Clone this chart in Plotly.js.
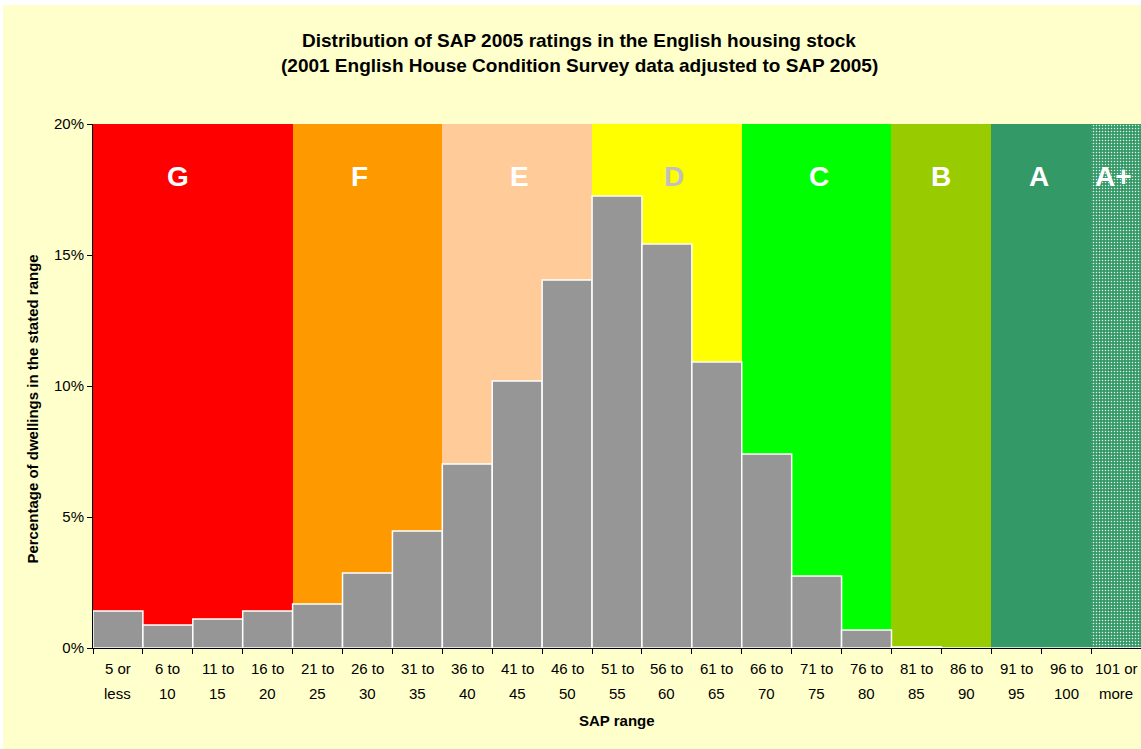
<!DOCTYPE html>
<html>
<head>
<meta charset="utf-8">
<script src="https://cdn.plot.ly/plotly-3.0.1.min.js"></script>
<style>
html,body{margin:0;padding:0;background:#ffffff;}
#chart{position:absolute;left:3px;top:5px;width:1138px;height:744px;}
</style>
</head>
<body>
<div id="chart"></div>
<script>
// ---- data ----
const categories = ["5 or less","6 to 10","11 to 15","16 to 20","21 to 25","26 to 30","31 to 35","36 to 40","41 to 45","46 to 50","51 to 55","56 to 60","61 to 65","66 to 70","71 to 75","76 to 80","81 to 85","86 to 90","91 to 95","96 to 100","101 or more"];
const tickLine1 = ["5 or","6 to","11 to","16 to","21 to","26 to","31 to","36 to","41 to","46 to","51 to","56 to","61 to","66 to","71 to","76 to","81 to","86 to","91 to","96 to","101 or"];
const tickLine2 = ["less","10","15","20","25","30","35","40","45","50","55","60","65","70","75","80","85","90","95","100","more"];
const percentages = [1.41, 0.88, 1.11, 1.41, 1.68, 2.86, 4.47, 7.02, 10.19, 14.05, 17.25, 15.42, 10.92, 7.40, 2.75, 0.69, 0.04, 0, 0, 0, 0];
const bandTop = 20;
const bandColors = ["#FF0000","#FF0000","#FF0000","#FF0000","#FF9900","#FF9900","#FF9900","#FFCC99","#FFCC99","#FFCC99","#FFFF00","#FFFF00","#FFFF00","#00FF00","#00FF00","#00FF00","#99CC00","#99CC00","#339966","#339966","#339966"];
const bandDotted = [false,false,false,false,false,false,false,false,false,false,false,false,false,false,false,false,false,false,false,false,true];
const bandLetters = ["G","F","E","D","C","B","A","A+"];
const bandLetterPos = [1.2, 4.85, 8.05, 11.15, 14.05, 16.5, 18.45, 19.95];
const bandLetterColors = ["#FFFFFF","#FFFFFF","#FFFFFF","#C0C0C0","#FFFFFF","#FFFFFF","#FFFFFF","#FFFFFF"];
const bandLetterY = 18;
const yTicks = [0, 5, 10, 15, 20];

const FONT = "Liberation Sans, Arial, sans-serif";

// ---- traces ----
const plainIdx = categories.map((c, i) => i).filter(i => !bandDotted[i]);
const dotIdx = categories.map((c, i) => i).filter(i => bandDotted[i]);
const bands = {
  type: "bar",
  x: plainIdx.map(i => categories[i]),
  y: plainIdx.map(() => bandTop),
  width: 1,
  marker: {color: plainIdx.map(i => bandColors[i]), line: {width: 0}},
  hoverinfo: "skip",
  showlegend: false
};
const dottedBands = {
  type: "bar",
  x: dotIdx.map(i => categories[i]),
  y: dotIdx.map(() => bandTop),
  width: 1,
  marker: {
    color: bandColors[dotIdx[0]],
    line: {width: 0},
    pattern: {shape: ".", fgcolor: "#FFFFFF", fgopacity: 0.9, size: 3, solidity: 0.2, fillmode: "overlay"}
  },
  hoverinfo: "skip",
  showlegend: false
};
const bars = {
  type: "bar",
  x: categories,
  y: percentages,
  width: 1,
  marker: {color: "#969696", line: {color: "#FFFFFF", width: 1.5}},
  showlegend: false
};

const annotations = [];
bandLetters.forEach((t, i) => annotations.push({
  x: bandLetterPos[i], y: bandLetterY, xref: "x", yref: "y",
  text: "<b>" + t + "</b>", showarrow: false,
  font: {family: FONT, size: 28, color: bandLetterColors[i]}
}));
categories.forEach((c, i) => {
  annotations.push({x: c, y: 0, xref: "x", yref: "paper", yanchor: "middle", yshift: -20,
    text: tickLine1[i], showarrow: false, font: {family: FONT, size: 15, color: "#000000"}});
  annotations.push({x: c, y: 0, xref: "x", yref: "paper", yanchor: "middle", yshift: -45,
    text: tickLine2[i], showarrow: false, font: {family: FONT, size: 15, color: "#000000"}});
});
annotations.push({x: 10, y: 0, xref: "x", yref: "paper", yanchor: "middle", yshift: -72, xanchor: "center",
  text: "<b>SAP range</b>", showarrow: false, font: {family: FONT, size: 15, color: "#000000"}});
annotations.push({x: 0, xref: "paper", xanchor: "center", xshift: -60, y: 9.1, yref: "y", yanchor: "middle", textangle: -90,
  text: "<b>Percentage of dwellings in the stated range</b>", showarrow: false,
  font: {family: FONT, size: 15, color: "#000000"}});
annotations.push({x: 0.464, xref: "paper", y: 1, yref: "paper", yanchor: "middle", yshift: 84,
  text: "<b>Distribution of SAP 2005 ratings in the English housing stock</b>", showarrow: false,
  font: {family: FONT, size: 19, color: "#000000"}});
annotations.push({x: 0.464, xref: "paper", y: 1, yref: "paper", yanchor: "middle", yshift: 59,
  text: "<b>(2001 English House Condition Survey data adjusted to SAP 2005)</b>", showarrow: false,
  font: {family: FONT, size: 19, color: "#000000"}});

const layout = {
  width: 1138, height: 744,
  paper_bgcolor: "#FFFFCC",
  plot_bgcolor: "#FFFFCC",
  margin: {l: 90, r: 0, t: 119, b: 101},
  barmode: "overlay",
  bargap: 0,
  font: {family: FONT, size: 15, color: "#000000"},
  xaxis: {
    type: "category",
    categoryorder: "array",
    categoryarray: categories,
    tickson: "boundaries",
    ticks: "outside", ticklen: 5, tickcolor: "#000000",
    showticklabels: false,
    showline: true, linecolor: "#000000", linewidth: 1,
    showgrid: false, zeroline: false,
    range: [-0.5, 20.5]
  },
  yaxis: {
    range: [0, 20],
    tickvals: yTicks,
    ticktext: yTicks.map(v => v + "%"),
    ticks: "outside", ticklen: 5, tickcolor: "#000000",
    showline: true, linecolor: "#000000", linewidth: 1,
    showgrid: false, zeroline: false,
    tickfont: {size: 15}
  },
  annotations: annotations
};

Plotly.newPlot("chart", [bands, dottedBands, bars], layout, {displayModeBar: false, staticPlot: true});
</script>
</body>
</html>
